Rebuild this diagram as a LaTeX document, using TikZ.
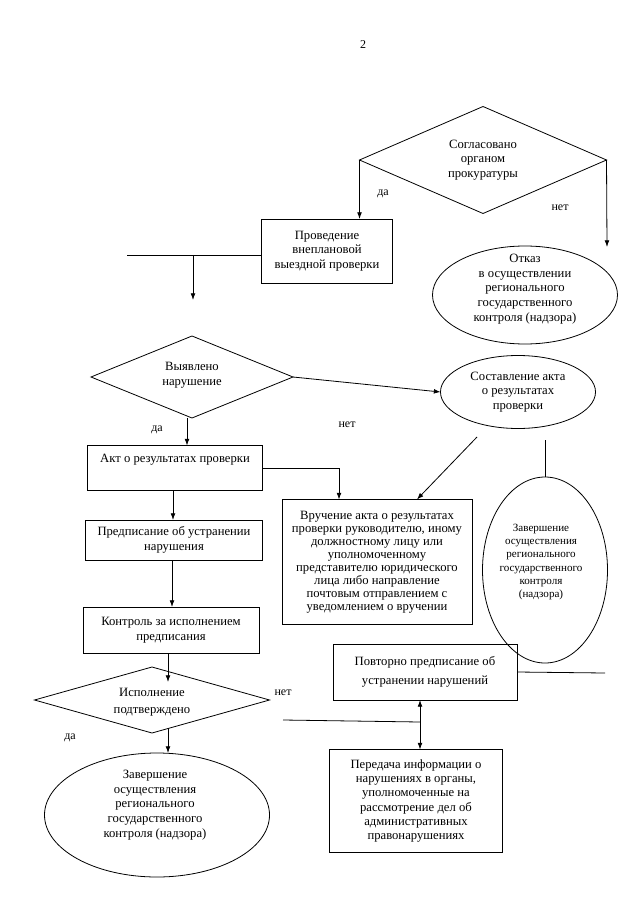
\documentclass[tikz,border=0pt]{standalone}
\usepackage{fontspec}
\setmainfont{Liberation Serif}
\usetikzlibrary{shapes.geometric,arrows.meta,calc}
\tikzset{
  sz/.style 2 args={minimum width=#1*0.75pt, minimum height=#2*0.75pt},
  base/.style={inner sep=0pt, outer sep=0pt, line width=0.6pt},
  boxnode/.style={base, draw, rectangle, align=center, font=\fontsize{9.5}{11}\selectfont},
  ellnode/.style={base, draw, ellipse},
  dianode/.style={base, draw, diamond},
  txt/.style={inner sep=0pt, align=center, font=\fontsize{9.5}{11}\selectfont},
  lbl/.style={inner sep=0pt, font=\fontsize{9}{11}\selectfont},
  arr/.style={line width=0.6pt, -{Latex[length=5pt,width=3.6pt]}},
  ln/.style={line width=0.6pt},
}
\begin{document}
\begin{tikzpicture}[x=0.75pt,y=-0.75pt]
\useasboundingbox (0,0) rectangle (640,905);

% page number
\node[lbl] (pg) at (363,45) {2};

% top decision
\node[dianode, sz={247}{107}] (d1) at (483,160) {};
\node[txt] (d1t) at (483,160) {Согласовано\\органом\\прокуратуры};

\node[boxnode, sz={131}{64}] (prov) at (327,251) {Проведение\\внеплановой\\выездной проверки};

\node[ellnode, sz={185}{98}] (otk) at (525,295) {};
\node[txt] (otkt) at (525,289) {Отказ\\в осуществлении\\регионального\\государственного\\контроля (надзора)};

\node[lbl] (l1) at (383,194) {да};
\node[lbl] (l2) at (560,208) {нет};

\coordinate (c1) at (607,247);
\draw[arr] (d1.west) -- (d1.west |- prov.north);
\draw[arr] (d1.east) -- (c1);

% from Проведение
\coordinate (c2) at (127,255);
\coordinate (c3) at (193,255);
\coordinate (c4) at (193,300);
\draw[ln] (prov.west |- c2) -- (c2);
\draw[arr] (c3) -- (c4);

% second decision
\node[dianode, sz={202}{82}] (d2) at (192,377) {};
\node[txt] (d2t) at (192,375) {Выявлено\\нарушение};

\node[ellnode, sz={155}{73}] (sost) at (518,392) {};
\node[txt] (sostt) at (518,392) {Составление акта\\о результатах\\проверки};

\node[lbl] (l3) at (157,430) {да};
\node[lbl] (l4) at (347,425) {нет};

\draw[arr] (d2.east) -- (sost.west);

\node[boxnode, sz={175}{45}] (akt) at (175,468) {Акт о результатах проверки\\[3pt]};
\coordinate (c5) at (187,418);
\draw[arr] (c5) -- (c5 |- akt.north);

% Вручение
\node[boxnode, sz={190}{125}, font=\fontsize{9.5}{9.8}\selectfont] (vr) at (377,562) {Вручение акта о результатах\\проверки руководителю, иному\\должностному лицу или\\уполномоченному\\представителю юридического\\лица либо направление\\почтовым отправлением с\\уведомлением о вручении};

\draw[arr] (akt.east) -| ($(vr.north west)!0.3!(vr.north east)$);

\coordinate (c6) at (477,437);
\draw[arr] (c6) -- ($(vr.north west)!0.71!(vr.north east)$);

% Завершение (right)
\node[ellnode, sz={125}{186}] (zr) at (545,570) {};
\node[txt, font=\fontsize{8.3}{9.8}\selectfont] (zrt) at (541,562) {Завершение\\осуществления\\регионального\\государственного\\контроля\\(надзора)};
\coordinate (c7) at (545,440);
\draw[ln] (c7) -- (zr.north);

% left column
\node[boxnode, sz={177}{40}] (pred) at (174,540) {Предписание об устранении\\нарушения};
\node[boxnode, sz={176}{46}] (kon) at (171,630) {Контроль за исполнением\\предписания};
\draw[arr] (akt.south -| 173,0) -- (pred.north -| 173,0);
\draw[arr] (pred.south -| 172,0) -- (kon.north -| 172,0);

% third decision
\node[dianode, sz={235}{66}] (d3) at (152,700) {};
\node[txt] (d3t) at (152,702) {Исполнение\\[2pt]подтверждено};
\coordinate (c8) at (168,682);
\draw[arr] (kon.south -| c8) -- (c8);

\node[ellnode, sz={225}{124}] (zl) at (157,815) {};
\node[txt] (zlt) at (155,805) {Завершение\\осуществления\\регионального\\государственного\\контроля (надзора)};

\coordinate (c9) at (168,728);
\draw[arr] (c9) -- (c9 |- zl.north);

\node[lbl] (l5) at (283,693) {нет};
\node[lbl] (l6) at (70,738) {да};

% Повторно / Передача
\node[boxnode, sz={184}{56}] (pov) at (425,672) {Повторно предписание об\\[3pt]устранении нарушений};
\node[boxnode, sz={173}{103}, font=\fontsize{9.5}{10.6}\selectfont] (per) at (416,801) {Передача информации о\\нарушениях в органы,\\уполномоченные на\\рассмотрение дел об\\административных\\правонарушениях};

\coordinate (c10) at (283,720);
\coordinate (c11) at (420,722);
\coordinate (c12) at (605,673);
\draw[ln] (c10) -- (c11);
\draw[line width=0.6pt, {Latex[length=5pt,width=3.6pt]}-{Latex[length=5pt,width=3.6pt]}] (pov.south -| c11) -- (per.north -| c11);
\draw[ln] (pov.east) -- (c12);

\end{tikzpicture}
\end{document}
